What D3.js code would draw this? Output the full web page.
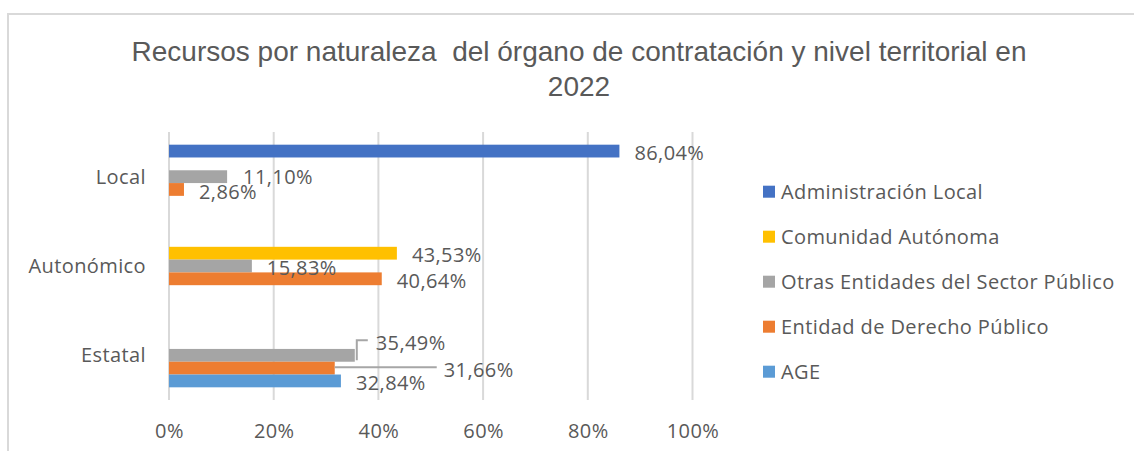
<!DOCTYPE html>
<html>
<head>
<meta charset="utf-8">
<script src="https://cdn.jsdelivr.net/npm/d3@7"></script>
<style>
  html, body { margin: 0; padding: 0; background: #fff; }
  svg { display: block; }
</style>
</head>
<body>
<div id="chart"></div>
<script>
// --- Data ---
const categories = ["Local", "Autonómico", "Estatal"];
const seriesNames = [
    "Administración Local",
    "Comunidad Autónoma",
    "Otras Entidades del Sector Público",
    "Entidad de Derecho Público",
    "AGE"
];
const seriesColors = ["#4472C4", "#FFC000", "#A5A5A5", "#ED7D31", "#5B9BD5"];
// values per category, one per series (null = no bar)
const localValues      = [86.04, null, 11.10, 2.86, null];
const autonomicoValues = [null, 43.53, 15.83, 40.64, null];
const estatalValues    = [null, null, 35.49, 31.66, 32.84];
const xTicks = [0, 20, 40, 60, 80, 100];
const titleLines = ["Recursos por naturaleza  del órgano de contratación y nivel territorial en", "2022"];

const valuesByCat = [localValues, autonomicoValues, estatalValues];

// label nudges (Excel moved a few by hand), keyed "cat|series"
const labelNudge = {
    "Local|2": [1, -1.7],
    "Local|3": [0, 1],
    "Estatal|2": [6, -14],
    "Estatal|3": [94, 0]
};

const width = 1134, height = 451;
const textColor = "#595959";
const font = "'Open Sans', sans-serif";
const fontSize = "20px";
const spacing = "0.4px";

const svg = d3.select("#chart").append("svg")
    .attr("width", width)
    .attr("height", height);

// chart frame (only top/left edges are in view)
svg.append("line").attr("x1", 8).attr("x2", width).attr("y1", 14).attr("y2", 14)
    .attr("stroke", "#D9D9D9").attr("stroke-width", 2);
svg.append("line").attr("x1", 8).attr("x2", 8).attr("y1", 13).attr("y2", height)
    .attr("stroke", "#D9D9D9").attr("stroke-width", 2);

// title
svg.append("g").selectAll("text")
    .data(titleLines)
    .join("text")
    .attr("x", 579)
    .attr("y", (d, i) => 61 + i * 35)
    .attr("text-anchor", "middle")
    .attr("fill", textColor)
    .style("font-family", "'Liberation Sans', Arial, sans-serif")
    .style("font-size", "28px")
    .style("white-space", "pre")
    .text(d => d);

// scales
const x = d3.scaleLinear().domain([0, 100]).range([169, 692.5]);
const y0 = d3.scaleBand().domain(categories).range([132, 400])
    .paddingInner(0.284).paddingOuter(0.142);
const y1 = d3.scaleBand().domain(d3.range(seriesNames.length)).range([0, y0.bandwidth()]);

// gridlines
svg.append("g").selectAll("line")
    .data(xTicks)
    .join("line")
    .attr("x1", d => x(d)).attr("x2", d => x(d))
    .attr("y1", 132).attr("y2", 400)
    .attr("stroke", "#D9D9D9").attr("stroke-width", 2);

// x axis labels
const xAxis = d3.axisBottom(x).tickValues(xTicks).tickFormat(d => d + "%").tickSize(0).tickPadding(0);
const xg = svg.append("g").attr("transform", "translate(0,424)").call(xAxis);
xg.select(".domain").remove();
xg.selectAll("text")
    .attr("fill", textColor)
    .style("font-family", font)
    .style("font-size", fontSize)
    .style("letter-spacing", spacing);

// category labels
const yAxis = d3.axisLeft(y0).tickSize(0).tickPadding(23);
const yg = svg.append("g").attr("transform", "translate(169,0)").call(yAxis);
yg.select(".domain").remove();
yg.selectAll("text")
    .attr("fill", textColor)
    .attr("dy", "0.35em")
    .style("font-family", font)
    .style("font-size", fontSize)
    .style("letter-spacing", spacing);

// flatten bars
const bars = [];
categories.forEach((c, ci) => {
    valuesByCat[ci].forEach((v, si) => {
        if (v != null) bars.push({ cat: c, s: si, value: v });
    });
});

const barG = svg.append("g");
barG.selectAll("rect")
    .data(bars)
    .join("rect")
    .attr("x", x(0))
    .attr("y", d => y0(d.cat) + y1(d.s))
    .attr("width", d => x(d.value) - x(0))
    .attr("height", y1.bandwidth())
    .attr("fill", d => seriesColors[d.s]);

// data labels
const fmt = v => v.toFixed(2).replace(".", ",") + "%";
bars.forEach(d => {
    const n = labelNudge[d.cat + "|" + d.s] || [0, 0];
    const barEnd = x(d.value);
    const cy = y0(d.cat) + y1(d.s) + y1.bandwidth() / 2;
    d.lx = barEnd + 15 + n[0];
    d.ly = cy + 2 + n[1];
    d.barEnd = barEnd;
    d.cy = cy;
});

// leader lines for moved labels
const leaders = bars.filter(d => d.cat === "Estatal" && (d.s === 2 || d.s === 3));
svg.append("g").selectAll("path")
    .data(leaders)
    .join("path")
    .attr("fill", "none")
    .attr("stroke", "#A6A6A6")
    .attr("stroke-width", 2)
    .attr("d", d => {
        const ty = d.ly - 3;
        if (d.ly < d.cy) {
            return `M${d.barEnd + 2},${d.cy + 5}V${ty}H${d.lx - 8}`;
        }
        return `M${d.barEnd},${ty}H${d.lx - 7}`;
    });

svg.append("g").selectAll("text")
    .data(bars)
    .join("text")
    .attr("x", d => d.lx)
    .attr("y", d => d.ly)
    .attr("dy", "0.35em")
    .attr("fill", textColor)
    .style("font-family", font)
    .style("font-size", fontSize)
    .style("letter-spacing", spacing)
    .text(d => fmt(d.value));

// legend
const legend = svg.append("g").attr("transform", "translate(763,0)");
const li = legend.selectAll("g")
    .data(seriesNames)
    .join("g")
    .attr("transform", (d, i) => `translate(0,${191.7 + i * 45})`);
li.append("rect")
    .attr("x", 0).attr("y", -6)
    .attr("width", 12).attr("height", 12)
    .attr("fill", (d, i) => seriesColors[i]);
li.append("text")
    .attr("x", 18)
    .attr("dy", "0.35em")
    .attr("fill", textColor)
    .style("font-family", font)
    .style("font-size", fontSize)
    .style("letter-spacing", spacing)
    .text(d => d);
</script>
</body>
</html>
